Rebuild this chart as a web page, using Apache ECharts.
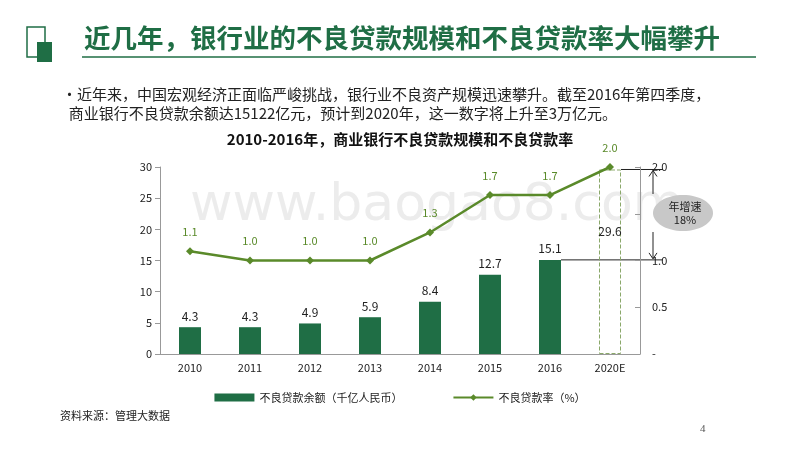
<!DOCTYPE html>
<html><head><meta charset="utf-8">
<script src="https://cdn.jsdelivr.net/npm/echarts@6/dist/echarts.min.js"></script>
<style>body{margin:0}#c{width:800px;height:450px}</style></head>
<body><div id="c"></div>
<script>
const categories=['2010','2011','2012','2013','2014','2015','2016','2020E'];
const npl=[4.3,4.3,4.9,5.9,8.4,12.7,15.1,29.6];
const nplRate=[1.1,1.0,1.0,1.0,1.3,1.7,1.7,2.0];
const leftTicks=[0,5,10,15,20,25,30];
const F='"Noto Sans CJK SC","Noto Sans",sans-serif';
const G='#1f6e45', L='#5a8a2a';
const chart=echarts.init(document.getElementById('c'));
const barData=npl.map((v,i)=>i<7?{value:v}:{value:v,itemStyle:{color:'rgba(0,0,0,0)',borderColor:'#8aa86a',borderType:'dashed',borderWidth:1},label:{position:'inside',offset:[0,-30]}});
const baseGraphic=[
  {id:'g1',type:'rect',shape:{x:27,y:27,width:18,height:30},style:{fill:'#fff',stroke:G,lineWidth:1.5}},
  {id:'g2',type:'rect',shape:{x:37,y:42,width:15,height:20},style:{fill:G}},
  {id:'g3',type:'text',left:84,top:25,style:{text:'近几年，银行业的不良贷款规模和不良贷款率大幅攀升',font:'bold 26.5px '+F,fill:G}},
  {id:'g4',type:'line',shape:{x1:82,y1:57,x2:756,y2:57},style:{stroke:G,lineWidth:1.5}},
  {id:'g5',type:'text',left:62,top:85,style:{text:'•近年来，中国宏观经济正面临严峻挑战，银行业不良资产规模迅速攀升。截至2016年第四季度，\n  商业银行不良贷款余额达15122亿元，预计到2020年，这一数字将上升至3万亿元。',font:'15px '+F,fill:'#222',lineHeight:19}},
  {id:'g6',type:'text',left:'center',top:132,style:{text:'2010-2016年，商业银行不良贷款规模和不良贷款率',font:'bold 15px '+F,fill:'#111'}},
  {id:'g7',type:'text',left:60,top:410,style:{text:'资料来源：管理大数据',font:'11px '+F,fill:'#222'}},
  {id:'g8',type:'text',left:700,top:424,style:{text:'4',font:'11px serif',fill:'#555'}},
  {id:'g9',type:'text',left:190,top:180,z:-1,style:{text:'www.baogao8.com',font:'52px Verdana, "DejaVu Sans", sans-serif',fill:'rgba(200,200,200,0.35)'}},
  {id:'g10',type:'ellipse',shape:{cx:683,cy:213,rx:30,ry:18},style:{fill:'#c8c8c8'}},
  {id:'g11',type:'text',x:685,y:213,style:{text:'年增速\n18%',font:'11px '+F,fill:'#222',align:'center',verticalAlign:'middle',lineHeight:13}}
];
chart.setOption({
 animation:false,
 textStyle:{fontFamily:F},
 grid:{left:160,right:160,top:167,bottom:96},
 graphic:baseGraphic,
 legend:{bottom:42,left:'center',itemGap:50,textStyle:{fontSize:11,color:'#222'},
  data:[{name:'不良贷款余额（千亿人民币）',icon:'rect'},{name:'不良贷款率（%）'}],itemWidth:40,itemHeight:8},
 xAxis:{type:'category',data:categories,axisLine:{lineStyle:{color:'#999'}},axisTick:{lineStyle:{color:'#999'}},axisLabel:{color:'#222',fontSize:11}},
 yAxis:[
  {type:'value',min:0,max:30,interval:5,splitLine:{show:false},axisLine:{show:true,lineStyle:{color:'#999'}},axisTick:{show:true,lineStyle:{color:'#999'}},axisLabel:{color:'#222',fontSize:11,formatter:v=>leftTicks.includes(v)?String(v):''}},
  {type:'value',min:0,max:2,interval:0.5,splitLine:{show:false},axisLine:{show:true,lineStyle:{color:'#999'}},axisTick:{show:true,inside:true,lineStyle:{color:'#999'}},axisLabel:{color:'#222',fontSize:11,margin:12,formatter:v=>v===0?'-':(v===1.5?'':v.toFixed(1))}}
 ],
 series:[
  {name:'不良贷款余额（千亿人民币）',type:'bar',data:barData,barWidth:22,itemStyle:{color:G},label:{show:true,position:'top',color:'#222',fontSize:12,formatter:p=>p.value.toFixed(1)}},
  {name:'不良贷款率（%）',type:'line',yAxisIndex:1,data:nplRate,symbol:'diamond',symbolSize:8,lineStyle:{color:L,width:2.5},itemStyle:{color:L},
   label:{show:true,position:'top',distance:10,color:L,fontSize:11,formatter:p=>p.value.toFixed(1)}}
 ]
});
const p16=chart.convertToPixel({xAxisIndex:0,yAxisIndex:0},[6,npl[6]]);
const p20=chart.convertToPixel({xAxisIndex:0,yAxisIndex:0},[7,npl[7]]);
const ax=653;
chart.setOption({graphic:[
  {id:'a1',type:'line',shape:{x1:p16[0]+11,y1:p16[1],x2:ax+10,y2:p16[1]},style:{stroke:'#222',lineWidth:1}},
  {id:'a2',type:'line',shape:{x1:p20[0]+11,y1:p20[1],x2:ax+10,y2:p20[1]},style:{stroke:'#222',lineWidth:1}},
  {id:'a3',type:'line',shape:{x1:ax,y1:p20[1]+2,x2:ax,y2:194},style:{stroke:'#222',lineWidth:1}},
  {id:'a4',type:'polyline',shape:{points:[[ax-4,p20[1]+7],[ax,p20[1]+1],[ax+4,p20[1]+7]]},style:{stroke:'#222',fill:null,lineWidth:1}},
  {id:'a5',type:'line',shape:{x1:ax,y1:232,x2:ax,y2:p16[1]-2},style:{stroke:'#222',lineWidth:1}},
  {id:'a6',type:'polyline',shape:{points:[[ax-4,p16[1]-7],[ax,p16[1]-1],[ax+4,p16[1]-7]]},style:{stroke:'#222',fill:null,lineWidth:1}}
]});
</script></body></html>
